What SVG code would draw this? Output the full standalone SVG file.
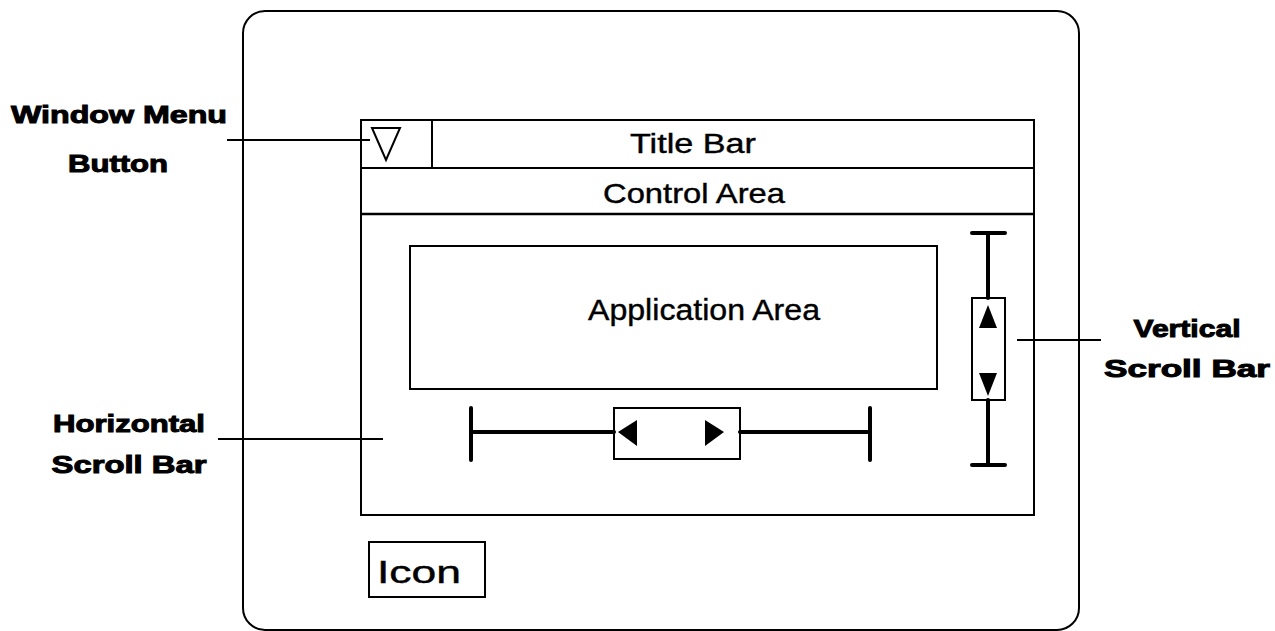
<svg xmlns="http://www.w3.org/2000/svg" width="1275" height="631" viewBox="0 0 1275 631">
<style>
.ln{fill:none;stroke:#000;stroke-width:2}
.sb{fill:none;stroke:#000;stroke-width:4;stroke-linecap:round}
.fl{fill:#000;stroke:none}
.t{font-family:"Liberation Sans",Arial,sans-serif;font-size:29px;fill:#000;text-anchor:middle;stroke:#000;stroke-width:0.4}
.b{font-family:"Liberation Sans",Arial,sans-serif;font-size:24px;font-weight:bold;fill:#000;text-anchor:middle;stroke:#000;stroke-width:1}
</style>
<rect width="1275" height="631" fill="#fff"/>
<g id="screen">
<rect class="ln" x="243" y="11" width="836" height="619" rx="22" ry="22"/>
</g>
<g id="window">
<rect class="ln" x="361" y="120" width="673" height="395"/>
<line class="ln" x1="361" y1="168" x2="1034" y2="168"/>
<line class="ln" x1="361" y1="214" x2="1034" y2="214" style="stroke-width:2.5"/>
</g>
<g id="window-menu-button">
<line class="ln" x1="432" y1="120" x2="432" y2="168"/>
<polygon class="ln" points="372,128 400,128 386,160"/>
</g>
<g id="title-bar">
<text class="t" x="693" y="153" style="font-size:27px" textLength="126" lengthAdjust="spacingAndGlyphs">Title Bar</text>
</g>
<g id="control-area">
<text class="t" x="694" y="203" style="font-size:28px" textLength="182" lengthAdjust="spacingAndGlyphs">Control Area</text>
</g>
<g id="application-area">
<rect class="ln" x="410" y="246" width="527" height="143"/>
<text class="t" x="704" y="320" style="font-size:30px" textLength="232" lengthAdjust="spacingAndGlyphs">Application Area</text>
</g>
<g id="horizontal-scroll-bar">
<line class="sb" x1="471" y1="408" x2="471" y2="460"/>
<line class="sb" x1="870" y1="408" x2="870" y2="460"/>
<line class="sb" x1="471" y1="432" x2="614" y2="432"/>
<line class="sb" x1="740" y1="432" x2="870" y2="432"/>
<rect class="ln" x="614" y="408" width="126" height="51"/>
<polygon class="fl" points="618,432 637,420 637,446"/>
<polygon class="fl" points="705,420 724,432 705,446"/>
</g>
<g id="vertical-scroll-bar">
<line class="sb" x1="972" y1="233" x2="1005" y2="233"/>
<line class="sb" x1="972" y1="465" x2="1005" y2="465"/>
<line class="sb" x1="988" y1="233" x2="988" y2="298"/>
<line class="sb" x1="988" y1="400" x2="988" y2="465"/>
<rect class="ln" x="972" y="298" width="33" height="102"/>
<polygon class="fl" points="988,305 997,328 979,328"/>
<polygon class="fl" points="979,373 997,373 988,396"/>
</g>
<g id="icon">
<rect class="ln" x="369" y="542" width="116" height="55"/>
<text class="t" x="419" y="583" style="font-size:31px" textLength="84" lengthAdjust="spacingAndGlyphs">Icon</text>
</g>
<g id="labels">
<text class="b" x="119" y="123" textLength="216" lengthAdjust="spacingAndGlyphs">Window Menu</text>
<text class="b" x="118" y="172" textLength="100" lengthAdjust="spacingAndGlyphs">Button</text>
<text class="b" x="129" y="432" textLength="152" lengthAdjust="spacingAndGlyphs">Horizontal</text>
<text class="b" x="129" y="473" textLength="155" lengthAdjust="spacingAndGlyphs">Scroll Bar</text>
<text class="b" x="1187" y="337" textLength="107" lengthAdjust="spacingAndGlyphs">Vertical</text>
<text class="b" x="1187" y="377" textLength="166" lengthAdjust="spacingAndGlyphs">Scroll Bar</text>
</g>
<g id="connectors">
<line class="ln" x1="227" y1="140" x2="370" y2="140"/>
<line class="ln" x1="218" y1="439" x2="383" y2="439"/>
<line class="ln" x1="1017" y1="340" x2="1101" y2="340"/>
</g>
</svg>
